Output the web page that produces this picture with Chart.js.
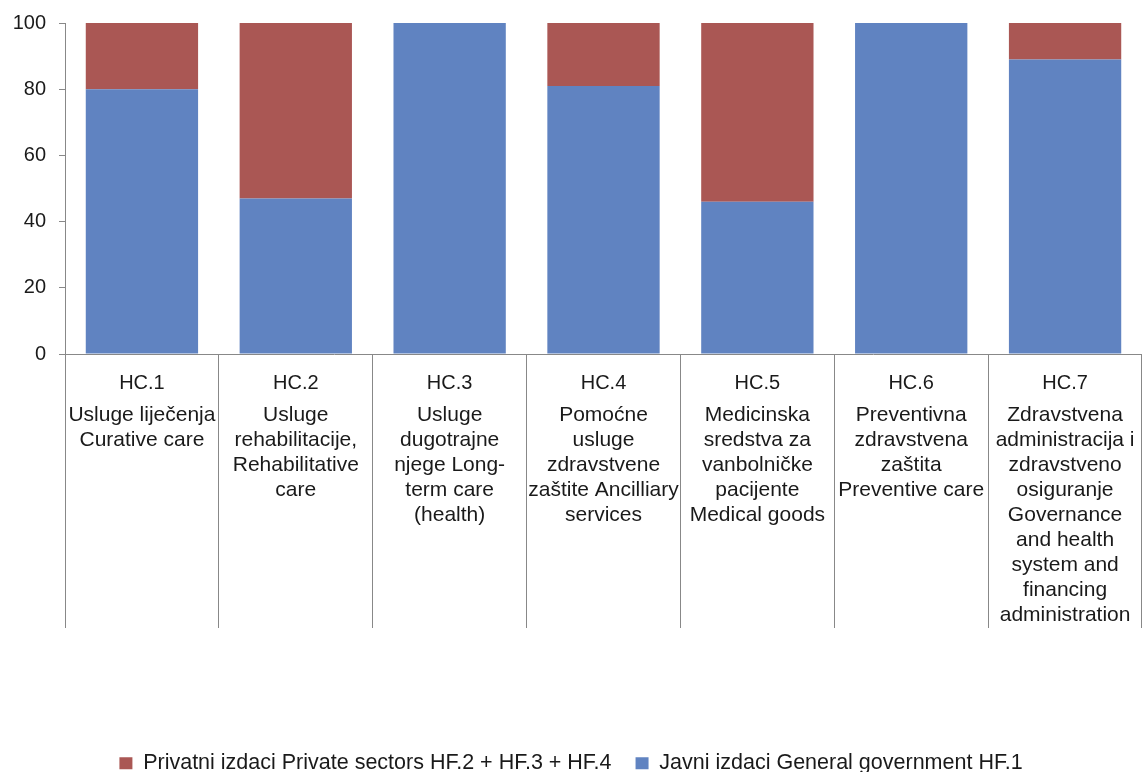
<!DOCTYPE html>
<html>
<head>
<meta charset="utf-8">
<script src="https://cdn.jsdelivr.net/npm/chart.js@4.4.1/dist/chart.umd.min.js"></script>
<style>
  html, body { margin: 0; padding: 0; background: #fff; }
  #wrap { width: 1142px; height: 772px; }
</style>
</head>
<body>
<div id="wrap"><canvas id="chart"></canvas></div>
<script>
const CODES = ['HC.1', 'HC.2', 'HC.3', 'HC.4', 'HC.5', 'HC.6', 'HC.7'];
const DESCRIPTIONS = [
    ['Usluge liječenja', 'Curative care'],
    ['Usluge', 'rehabilitacije,', 'Rehabilitative', 'care'],
    ['Usluge', 'dugotrajne', 'njege Long-', 'term care', '(health)'],
    ['Pomoćne', 'usluge', 'zdravstvene', 'zaštite Ancilliary', 'services'],
    ['Medicinska', 'sredstva za', 'vanbolničke', 'pacijente', 'Medical goods'],
    ['Preventivna', 'zdravstvena', 'zaštita', 'Preventive care'],
    ['Zdravstvena', 'administracija i', 'zdravstveno', 'osiguranje', 'Governance', 'and health', 'system and', 'financing', 'administration']
];
const PUBLIC_SHARE = [80, 47, 100, 81, 46, 100, 89];
const PRIVATE_SHARE = [20, 53, 0, 19, 54, 0, 11];
const Y_TICKS = [0, 20, 40, 60, 80, 100];

const FONT = 'Liberation Sans, Arial, sans-serif';
const AXIS_GREY = '#888888';
const TEXT = '#1a1a1a';

new Chart(document.getElementById('chart'), {
    type: 'bar',
    data: {
        labels: CODES,
        datasets: [
            { label: 'Javni izdaci General government HF.1', data: PUBLIC_SHARE, backgroundColor: '#6083c1', borderWidth: 0 },
            { label: 'Privatni izdaci Private sectors HF.2 + HF.3 + HF.4', data: PRIVATE_SHARE, backgroundColor: '#aa5754', borderWidth: 0 }
        ]
    },
    options: {
        responsive: true, maintainAspectRatio: false, animation: false,
        layout: { padding: { top: 23, right: 0, left: 0, bottom: -12 } },
        datasets: { bar: { barPercentage: 0.73, categoryPercentage: 1 } },
        plugins: {
            tooltip: { enabled: false },
            legend: {
                position: 'bottom', reverse: true,
                labels: { boxWidth: 13, boxHeight: 12, padding: 24, color: TEXT, font: { family: FONT, size: 21.5 } }
            }
        },
        scales: {
            x: {
                stacked: true, offset: true,
                // long tick marks make the separators between the category labels
                grid: { drawOnChartArea: false, offset: true, tickLength: 274, color: AXIS_GREY },
                border: { color: AXIS_GREY },
                ticks: { autoSkip: false, maxRotation: 0, padding: -257.5, color: TEXT, font: { family: FONT, size: 20, lineHeight: 1.25 } },
                afterFit: function(s) { s.height = 48.5; }
            },
            xDesc: {
                type: 'category', position: 'bottom', labels: DESCRIPTIONS, offset: true,
                grid: { display: false, drawTicks: false }, border: { display: false },
                ticks: { autoSkip: false, maxRotation: 0, padding: 0, color: TEXT, font: { family: FONT, size: 21, lineHeight: 1.19 } },
                afterFit: function(s) { s.height = 326; }
            },
            y: {
                stacked: true, min: 0, max: 100,
                afterBuildTicks: function(s) { s.ticks = Y_TICKS.map(function(v) { return { value: v }; }); },
                grid: { drawOnChartArea: false, tickLength: 6, color: AXIS_GREY },
                border: { color: AXIS_GREY },
                ticks: { padding: 13, color: TEXT, font: { family: FONT, size: 20 } },
                afterFit: function(s) { s.width = 65; s.paddingTop = 12; s.paddingBottom = 12; }
            }
        }
    }
});
</script>
</body>
</html>
